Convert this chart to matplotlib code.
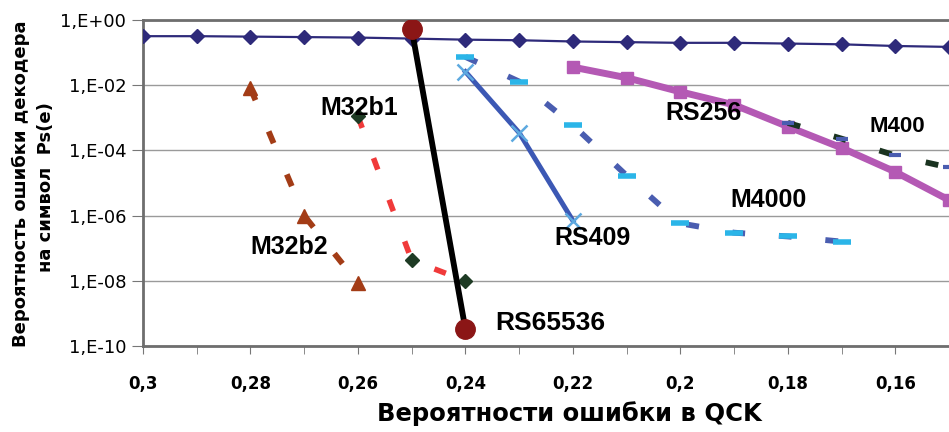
import numpy as np
import matplotlib
matplotlib.use("Agg")
import matplotlib.pyplot as plt

plt.rcParams['font.family'] = ['DejaVu Sans']

# channel symbol error probability (x axis, reversed)
x_all = [0.30, 0.29, 0.28, 0.27, 0.26, 0.25, 0.24, 0.23, 0.22, 0.21, 0.20, 0.19, 0.18, 0.17, 0.16, 0.15]
y_uncoded = [0.32, 0.32, 0.31, 0.30, 0.29, 0.27, 0.25, 0.24, 0.22, 0.21, 0.20, 0.20, 0.19, 0.18, 0.16, 0.15]

x_rs65536 = [0.25, 0.24]
y_rs65536 = [0.53, 3.3e-10]

x_m32b1 = [0.26, 0.25, 0.24]
y_m32b1 = [1.1e-3, 4.3e-8, 1.0e-8]

x_m32b2 = [0.28, 0.27, 0.26]
y_m32b2 = [8.0e-3, 1.0e-6, 8.5e-9]

x_rs409 = [0.24, 0.23, 0.22]
y_rs409 = [2.6e-2, 3.5e-4, 7.0e-7]

x_m4000 = [0.24, 0.23, 0.22, 0.21, 0.20, 0.19, 0.18, 0.17]
y_m4000 = [7.4e-2, 1.3e-2, 6.0e-4, 1.7e-5, 5.8e-7, 3.0e-7, 2.3e-7, 1.6e-7]

x_rs256 = [0.22, 0.21, 0.20, 0.19, 0.18, 0.17, 0.16, 0.15]
y_rs256 = [3.6e-2, 1.7e-2, 6.3e-3, 2.5e-3, 5.4e-4, 1.2e-4, 2.2e-5, 3.0e-6]

x_m400 = [0.18, 0.17, 0.16, 0.15]
y_m400 = [7.0e-4, 2.3e-4, 7.0e-5, 3.0e-5]

xticks = [0.30, 0.28, 0.26, 0.24, 0.22, 0.20, 0.18, 0.16]
xtick_labels = ["0,3", "0,28", "0,26", "0,24", "0,22", "0,2", "0,18", "0,16"]
yticks = [1e0, 1e-2, 1e-4, 1e-6, 1e-8, 1e-10]
ytick_labels = ["1,E+00", "1,E-02", "1,E-04", "1,E-06", "1,E-08", "1,E-10"]

fig = plt.figure(figsize=(9.49, 4.32), dpi=100)
ax = fig.add_axes([0.1507, 0.199, 0.8493, 0.7546])

ax.plot(x_all, y_uncoded, color='#2E2A7A', lw=1.6, marker='D', ms=7.5, zorder=3)

dash = (2.2, 5.8)
ax.plot(x_m32b2, y_m32b2, color='#A33C16', lw=4.2, dashes=dash,
        marker='^', ms=10, zorder=3)
ax.plot(x_m32b1, y_m32b1, color='#F03A3A', lw=4, dashes=dash, zorder=3)
ax.plot(x_m32b1, y_m32b1, ls='none', marker='D', ms=7.5, color='#1E3B24', zorder=5)

ax.plot(x_m4000, y_m4000, color='#4A5DB0', lw=4.2, dashes=dash, zorder=3)
ax.plot(x_m4000, y_m4000, ls='none', marker='_', ms=13, mew=4, color='#2BB5E8', zorder=4)

ax.plot(x_rs409, y_rs409, color='#3C58B4', lw=3.6, marker='x', ms=11, mew=1.8,
        mec='#5DA9E0', zorder=4)

ax.plot(x_rs256, y_rs256, color='#B459B4', lw=5, marker='s', ms=8, zorder=3)
ax.plot(x_m400, y_m400, color='#1A3320', lw=4.2, dashes=(2.2, 6.0), zorder=4)
ax.plot(x_m400, y_m400, ls='none', marker='_', ms=8, mew=3, color='#4A5DB0', zorder=5)

ax.plot(x_rs65536, y_rs65536, color='black', lw=4.2, marker='o', ms=14,
        mfc='#8B1616', mec='#8B1616', zorder=6)

ax.set_yscale('log')
ax.set_xlim(0.3, 0.151)
ax.set_ylim(1e-10, 1e0)

ax.set_xticks(xticks)
ax.set_xticklabels(xtick_labels, fontsize=12, fontweight='bold')
ax.set_xticks(np.arange(0.15, 0.3001, 0.01), minor=True)
ax.tick_params(axis='x', which='both', direction='out', length=6, color='#777777', pad=15)
ax.set_yticks(yticks)
ax.set_yticklabels(ytick_labels, fontsize=13)
ax.yaxis.set_minor_locator(matplotlib.ticker.NullLocator())
ax.tick_params(axis='y', direction='out', length=8, color='#777777', pad=4)

ax.grid(axis='y', which='major', color='#9A9A9A', lw=1)
ax.set_axisbelow(True)
for side in ['left', 'bottom', 'top']:
    ax.spines[side].set_color('#6E6E6E')
    ax.spines[side].set_linewidth(2)
ax.spines['right'].set_visible(False)

lab = dict(fontsize=18, fontweight='bold', family='Liberation Sans', zorder=7)
ax.text(0.2598, 2e-3, "M32b1", ha='center', va='center', **lab)
ax.text(0.2728, 1.1e-7, "M32b2", ha='center', va='center', **lab)
ax.text(0.2345, 5e-10, "RS65536", ha='left', va='center', fontsize=19,
        fontweight='bold', family='Liberation Sans', zorder=7)
ax.text(0.2235, 2e-7, "RS409", ha='left', va='center', **lab)
ax.text(0.2028, 1.4e-3, "RS256", ha='left', va='center', **lab)
ax.text(0.1907, 3e-6, "M4000", ha='left', va='center', **lab)
ax.text(0.1648, 5.6e-4, "M400", ha='left', va='center', fontsize=16,
        fontweight='bold', family='Liberation Sans', zorder=7)

fig.text(0.022, 0.574, "Вероятность ошибки декодера", rotation=90,
         ha='center', va='center', fontsize=13, fontweight='bold')
fig.text(0.048, 0.567, "на символ  Ps(e)", rotation=90,
         ha='center', va='center', fontsize=13, fontweight='bold')
fig.text(0.600, 0.042, "Вероятности ошибки в QCK", ha='center', va='center',
         fontsize=17.5, fontweight='bold')

fig.savefig("out.png", dpi=100)
